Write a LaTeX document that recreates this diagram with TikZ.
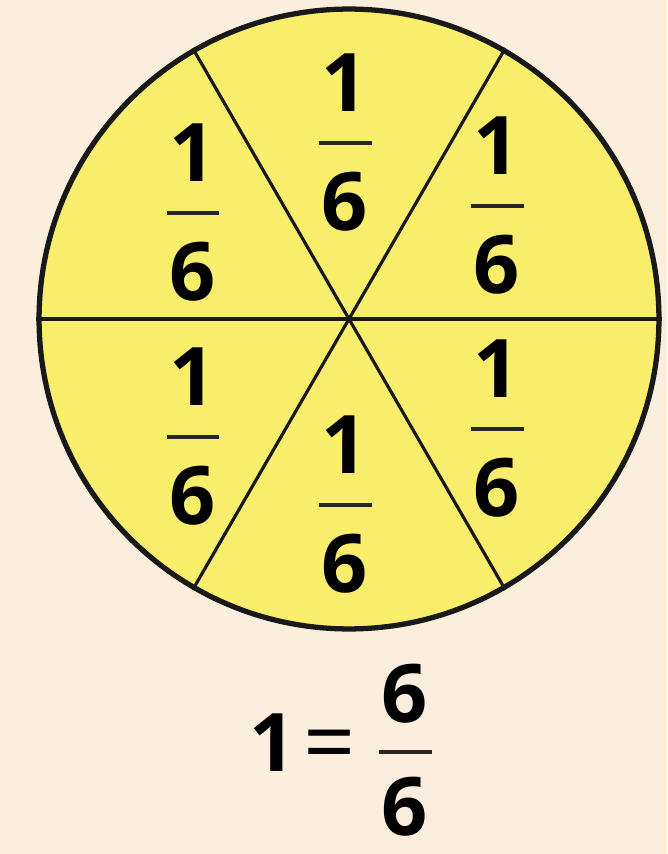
\documentclass[tikz,border=0pt]{standalone}
\usepackage{fontspec}
\setmainfont{Open Sans}
\usetikzlibrary{calc}
\definecolor{paper}{HTML}{FCEEDC}
\definecolor{pie}{HTML}{F9EE6C}

\begin{document}
\begin{tikzpicture}[
    x=0.02cm, y=-0.02cm,
    disc/.style={
      circle,
      draw=black!90,
      line width=3pt,
      fill=pie,
      minimum size=12.4cm,
      inner sep=0pt
    },
    spoke/.style={
      draw=black!90,
      line width=1.8pt
    },
    digit/.style={
      inner sep=0pt,
      font=\fontsize{46}{46}\selectfont\bfseries
    },
    fracbar/.style={
      draw=black!85,
      line width=2.2pt
    }
  ]

  % Background
  \fill[paper] (0,0) rectangle (667,854);
  \useasboundingbox (0,0) rectangle (667,854);

  % Disc cut in six
  \node[disc] (disc) at (349,319) {};
  \foreach \a/\b in {0/180,60/240,120/300}
    \draw[spoke] (disc.\a) -- (disc.\b);

  % One sixth in each piece
  \foreach \nm/\px/\py in {t/345/143, tl/193/213, tr/497/206, bl/193/437, br/497/429, b/345/505} {
    \coordinate (bar\nm) at (\px,\py);
    \node[digit] (num\nm) at ([yshift=1.2cm]bar\nm) {1};
    \node[digit] (den\nm) at ([yshift=-1.18cm]bar\nm) {6};
    \draw[fracbar] ([xshift=-0.53cm]bar\nm) -- ([xshift=0.53cm]bar\nm);
  }

  % Sum
  \coordinate (barsum) at (405,752);
  \node[digit] (numsum) at ([yshift=1.16cm]barsum) {6};
  \node[digit] (densum) at ([yshift=-1.1cm]barsum) {6};
  \draw[fracbar] ([xshift=-0.53cm]barsum) -- ([xshift=0.53cm]barsum);
  \node[digit, font=\fontsize{52}{52}\selectfont] (eq) at (330,752) {=};
  \node[digit] (one) at (273,743) {1};

\end{tikzpicture}
\end{document}
